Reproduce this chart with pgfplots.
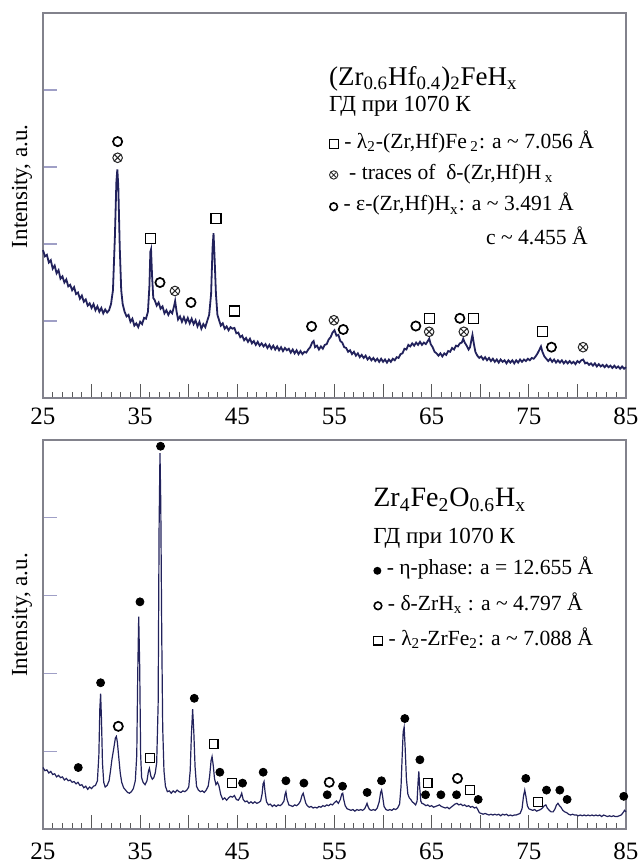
\documentclass[border=0pt]{standalone}
\usepackage{fontspec}
\setmainfont{Liberation Serif}
\usepackage{pgfplots}
\usepackage{pgfplotstable}
\pgfplotsset{compat=1.18}

\definecolor{trace}{RGB}{34,34,92}
\definecolor{frame}{RGB}{130,130,140}

% phase symbols used in the keys, built once as boxes
\newsavebox\boxsq
\newsavebox\boxot
\newsavebox\boxci
\newsavebox\boxdot
\newcommand{\symsq}{\usebox\boxsq}
\newcommand{\symot}{\usebox\boxot}
\newcommand{\symci}{\usebox\boxci}
\newcommand{\symdot}{\usebox\boxdot}
\newcommand{\Ang}{Å}
\newcommand{\keyfont}{\fontsize{10.8}{12}\selectfont}
\tikzset{keytext/.style={inner sep=0pt, anchor=base west}}

\pgfplotstableread{
x y
25.0 1.92
25.2 1.84
25.4 1.86
25.6 1.76
25.8 1.79
26.0 1.68
26.2 1.72
26.4 1.62
26.6 1.66
26.8 1.55
27.0 1.58
27.2 1.50
27.4 1.54
27.6 1.45
27.8 1.47
28.0 1.40
28.2 1.44
28.4 1.35
28.6 1.37
28.8 1.29
29.0 1.33
29.2 1.25
29.4 1.28
29.6 1.20
29.8 1.23
30.0 1.17
30.2 1.22
30.4 1.14
30.6 1.19
30.8 1.12
31.0 1.17
31.2 1.10
31.4 1.15
31.6 1.11
31.8 1.14
32.0 1.22
32.2 1.40
32.4 2.10
32.55 2.80
32.65 2.97
32.75 2.75
32.9 1.95
33.05 1.40
33.2 1.22
33.4 1.12
33.6 1.06
33.8 1.08
34.0 0.99
34.2 1.03
34.4 0.94
34.6 0.97
34.8 0.92
35.0 0.99
35.2 0.96
35.4 1.04
35.6 1.03
35.8 1.12
35.95 1.45
36.05 1.90
36.12 1.93
36.22 1.60
36.35 1.30
36.5 1.27
36.7 1.20
36.9 1.24
37.1 1.16
37.3 1.19
37.5 1.10
37.7 1.14
37.9 1.08
38.1 1.13
38.3 1.10
38.5 1.20
38.6 1.26
38.75 1.12
38.9 1.02
39.1 1.06
39.3 0.99
39.5 1.05
39.7 0.98
39.9 1.04
40.1 0.97
40.3 1.03
40.5 0.96
40.7 1.01
40.9 0.93
41.1 0.99
41.3 0.90
41.5 0.96
41.7 0.92
41.9 1.00
42.1 1.08
42.3 1.35
42.45 1.95
42.55 2.14
42.65 1.85
42.8 1.35
42.95 1.08
43.1 1.02
43.3 0.94
43.5 0.97
43.7 0.90
43.9 0.93
44.1 0.88
44.3 0.92
44.5 0.90
44.7 0.91
44.9 0.84
45.1 0.85
45.3 0.79
45.5 0.81
45.7 0.75
45.9 0.78
46.1 0.73
46.3 0.77
46.5 0.71
46.7 0.74
46.9 0.69
47.1 0.73
47.3 0.68
47.5 0.71
47.7 0.67
47.9 0.70
48.1 0.65
48.3 0.69
48.5 0.64
48.7 0.68
48.9 0.63
49.1 0.67
49.3 0.62
49.5 0.66
49.7 0.61
49.9 0.65
50.1 0.62
50.3 0.64
50.5 0.59
50.7 0.63
50.9 0.58
51.1 0.62
51.3 0.57
51.5 0.61
51.7 0.57
51.9 0.60
52.1 0.59
52.3 0.63
52.5 0.66
52.7 0.72
52.85 0.74
53.0 0.66
53.2 0.68
53.4 0.63
53.6 0.67
53.8 0.64
54.0 0.69
54.2 0.70
54.4 0.76
54.6 0.79
54.8 0.85
55.0 0.88
55.2 0.81
55.4 0.82
55.6 0.74
55.8 0.72
56.0 0.66
56.2 0.65
56.4 0.60
56.6 0.62
56.8 0.57
57.0 0.60
57.2 0.55
57.4 0.58
57.6 0.53
57.8 0.56
58.0 0.52
58.2 0.55
58.4 0.50
58.6 0.53
58.8 0.49
59.0 0.52
59.2 0.48
59.4 0.51
59.6 0.47
59.8 0.51
60.0 0.47
60.2 0.50
60.4 0.46
60.6 0.50
60.8 0.47
61.0 0.51
61.2 0.49
61.4 0.53
61.6 0.52
61.8 0.57
62.0 0.58
62.2 0.64
62.4 0.63
62.6 0.69
62.8 0.67
63.0 0.71
63.2 0.68
63.4 0.72
63.6 0.69
63.8 0.73
64.0 0.69
64.2 0.72
64.4 0.70
64.6 0.74
64.75 0.77
64.9 0.70
65.1 0.66
65.3 0.60
65.5 0.58
65.7 0.55
65.9 0.58
66.1 0.54
66.3 0.58
66.5 0.56
66.7 0.61
66.9 0.60
67.1 0.65
67.3 0.63
67.5 0.68
67.7 0.67
67.9 0.71
68.1 0.72
68.25 0.77
68.4 0.72
68.6 0.68
68.8 0.63
68.95 0.66
69.1 0.76
69.2 0.82
69.35 0.70
69.5 0.60
69.7 0.55
69.9 0.52
70.1 0.54
70.3 0.50
70.5 0.53
70.7 0.49
70.9 0.52
71.1 0.48
71.3 0.51
71.5 0.47
71.7 0.50
71.9 0.46
72.1 0.50
72.3 0.47
72.5 0.49
72.7 0.45
72.9 0.49
73.1 0.46
73.3 0.49
73.5 0.45
73.7 0.49
73.9 0.46
74.1 0.50
74.3 0.47
74.5 0.50
74.7 0.48
74.9 0.51
75.1 0.49
75.3 0.52
75.5 0.51
75.7 0.54
75.9 0.58
76.1 0.63
76.25 0.67
76.4 0.60
76.6 0.54
76.8 0.51
77.0 0.48
77.2 0.51
77.4 0.47
77.6 0.50
77.8 0.46
78.0 0.49
78.2 0.46
78.4 0.49
78.6 0.45
78.8 0.48
79.0 0.45
79.2 0.48
79.4 0.45
79.6 0.47
79.8 0.44
80.0 0.48
80.2 0.46
80.4 0.49
80.6 0.50
80.8 0.45
81.0 0.46
81.2 0.43
81.4 0.45
81.6 0.42
81.8 0.45
82.0 0.41
82.2 0.44
82.4 0.41
82.6 0.43
82.8 0.40
83.0 0.43
83.2 0.40
83.4 0.42
83.6 0.39
83.8 0.42
84.0 0.39
84.2 0.41
84.4 0.38
84.6 0.41
84.8 0.38
85.0 0.40
}\toptrace

\pgfplotstableread{
x y
25.0 0.79
25.2 0.75
25.4 0.76
25.6 0.72
25.8 0.74
26.0 0.70
26.2 0.71
26.4 0.67
26.6 0.69
26.8 0.66
27.0 0.67
27.2 0.63
27.4 0.65
27.6 0.62
27.8 0.63
28.0 0.60
28.2 0.61
28.4 0.58
28.6 0.60
28.8 0.56
29.0 0.57
29.2 0.53
29.4 0.55
29.6 0.51
29.8 0.54
30.0 0.52
30.2 0.55
30.4 0.56
30.6 0.62
30.75 0.95
30.85 1.55
30.93 1.74
31.02 1.40
31.12 0.85
31.25 0.60
31.4 0.54
31.6 0.56
31.8 0.62
31.95 0.75
32.1 0.90
32.3 1.05
32.45 1.17
32.55 1.19
32.65 1.12
32.8 0.92
32.95 0.72
33.1 0.60
33.3 0.53
33.5 0.50
33.7 0.47
33.9 0.46
34.1 0.48
34.3 0.52
34.5 0.62
34.65 0.95
34.75 2.00
34.85 2.73
34.95 2.10
35.05 0.95
35.15 0.66
35.3 0.60
35.5 0.57
35.7 0.62
35.85 0.74
35.95 0.78
36.1 0.68
36.25 0.64
36.4 0.66
36.55 0.72
36.7 0.85
36.85 1.60
36.95 3.90
37.04 4.83
37.12 4.20
37.22 2.50
37.32 1.30
37.45 0.75
37.6 0.55
37.8 0.48
38.0 0.49
38.2 0.46
38.4 0.49
38.6 0.47
38.8 0.50
39.0 0.48
39.2 0.47
39.4 0.49
39.6 0.48
39.8 0.50
40.0 0.54
40.15 0.75
40.27 1.20
40.4 1.54
40.52 1.25
40.65 0.80
40.8 0.55
41.0 0.50
41.2 0.48
41.4 0.49
41.6 0.47
41.8 0.50
42.0 0.55
42.15 0.68
42.3 0.88
42.4 0.93
42.52 0.82
42.65 0.65
42.8 0.57
42.95 0.60
43.1 0.56
43.3 0.44
43.5 0.38
43.7 0.40
43.9 0.37
44.1 0.40
44.3 0.42
44.5 0.41
44.7 0.43
44.9 0.38
45.1 0.37
45.3 0.41
45.45 0.46
45.6 0.38
45.8 0.35
46.0 0.36
46.2 0.33
46.4 0.35
46.6 0.33
46.8 0.35
47.0 0.33
47.2 0.34
47.4 0.36
47.55 0.45
47.65 0.58
47.75 0.61
47.85 0.48
48.0 0.35
48.2 0.31
48.4 0.32
48.6 0.29
48.8 0.31
49.0 0.29
49.2 0.31
49.4 0.30
49.6 0.32
49.8 0.36
49.92 0.45
50.0 0.48
50.12 0.38
50.3 0.31
50.5 0.30
50.7 0.29
50.9 0.31
51.1 0.30
51.3 0.32
51.5 0.36
51.65 0.43
51.78 0.46
51.9 0.40
52.05 0.33
52.2 0.30
52.4 0.28
52.6 0.29
52.8 0.27
53.0 0.28
53.2 0.27
53.4 0.29
53.6 0.28
53.8 0.30
54.0 0.29
54.2 0.31
54.4 0.30
54.6 0.32
54.8 0.31
55.0 0.34
55.2 0.36
55.4 0.33
55.6 0.38
55.75 0.45
55.85 0.46
55.95 0.38
56.1 0.30
56.3 0.26
56.5 0.25
56.7 0.24
56.9 0.25
57.1 0.23
57.3 0.25
57.5 0.24
57.7 0.25
57.9 0.24
58.1 0.26
58.25 0.30
58.35 0.33
58.45 0.29
58.6 0.25
58.8 0.24
59.0 0.25
59.2 0.24
59.4 0.27
59.6 0.35
59.75 0.47
59.85 0.50
59.95 0.42
60.1 0.29
60.3 0.25
60.5 0.24
60.7 0.25
60.9 0.24
61.1 0.26
61.3 0.25
61.5 0.27
61.7 0.32
61.85 0.55
61.97 0.95
62.07 1.25
62.17 1.31
62.27 1.05
62.4 0.65
62.55 0.45
62.7 0.40
62.85 0.38
63.0 0.35
63.2 0.33
63.35 0.31
63.5 0.36
63.6 0.60
63.68 0.74
63.76 0.55
63.88 0.36
64.0 0.33
64.2 0.32
64.4 0.30
64.6 0.31
64.8 0.29
65.0 0.30
65.2 0.28
65.4 0.29
65.6 0.30
65.8 0.31
66.0 0.29
66.2 0.28
66.4 0.27
66.6 0.28
66.8 0.26
67.0 0.28
67.2 0.30
67.4 0.32
67.6 0.33
67.8 0.31
68.0 0.32
68.2 0.30
68.4 0.31
68.6 0.29
68.8 0.30
69.0 0.28
69.2 0.29
69.4 0.27
69.6 0.28
69.75 0.25
69.9 0.21
70.1 0.20
70.3 0.19
70.5 0.20
70.7 0.19
70.9 0.18
71.1 0.19
71.3 0.18
71.5 0.19
71.7 0.18
71.9 0.19
72.1 0.17
72.3 0.19
72.5 0.18
72.7 0.19
72.9 0.17
73.1 0.18
73.3 0.17
73.5 0.18
73.7 0.18
73.9 0.19
74.1 0.20
74.3 0.26
74.45 0.42
74.58 0.50
74.7 0.42
74.85 0.30
75.0 0.26
75.2 0.25
75.4 0.24
75.6 0.25
75.8 0.23
76.0 0.24
76.2 0.25
76.4 0.27
76.6 0.30
76.75 0.31
76.9 0.27
77.1 0.24
77.3 0.22
77.5 0.22
77.7 0.26
77.85 0.31
78.0 0.33
78.15 0.30
78.3 0.28
78.5 0.24
78.7 0.22
78.9 0.21
79.1 0.19
79.3 0.18
79.5 0.19
79.7 0.18
79.9 0.18
80.1 0.17
80.3 0.18
80.5 0.17
80.7 0.18
80.9 0.17
81.1 0.18
81.3 0.17
81.5 0.18
81.7 0.17
81.9 0.18
82.1 0.17
82.3 0.18
82.5 0.16
82.7 0.18
82.9 0.17
83.1 0.16
83.3 0.17
83.5 0.16
83.7 0.17
83.9 0.16
84.1 0.16
84.3 0.17
84.5 0.18
84.7 0.21
84.85 0.24
85.0 0.22
}\bottomtrace

\pgfplotsset{
  xrd/.style={
    width=291.5pt, scale only axis,
    xmin=25, xmax=85, ymin=0, ymax=5,
    xtick={25,30,...,85},
    xticklabels={25,,35,,45,,55,,65,,75,,85},
    minor x tick num=4,
    ytick={1,2,3,4}, yticklabels={},
    tick align=inside, tick pos=left,
    major tick length=7pt, minor tick length=3pt,
    axis line style={frame, line width=0.6pt},
    tick style={gray!70!black, line width=0.5pt},
    ytick style={blue!25!gray!60, line width=0.6pt},
    ticklabel style={font=\fontsize{12.5}{14}\selectfont},
    /pgf/number format/assume math mode=true,
    ylabel={Intensity, a.u.},
    ylabel style={at={(axis description cs:-0.036,0.55)}, anchor=center,
      font=\fontsize{11.5}{13}\selectfont},
    clip=false,
  },
  sqmark/.style={only marks, mark=square, mark size=2.5pt,
    mark options={line width=0.6pt, black}},
  cimark/.style={only marks, mark=o, mark size=2.3pt,
    mark options={line width=0.85pt, black}},
  otmark/.style={only marks, mark=otimes, mark size=2.4pt,
    mark options={line width=0.5pt, gray!30!black}},
  dotmark/.style={only marks, mark=*, mark size=2pt,
    mark options={black}},
}

\begin{document}
\sbox\boxsq{\tikz[baseline=0pt]\draw[line width=0.55pt] (0,0) rectangle (4.4pt,4.4pt);}%
\sbox\boxot{\tikz[baseline=0pt]{\draw[line width=0.45pt,gray!30!black] (0,2.2pt) circle (2.1pt);
  \draw[line width=0.4pt,gray!30!black] (-1.3pt,0.9pt)--(1.3pt,3.5pt) (-1.3pt,3.5pt)--(1.3pt,0.9pt);}}%
\sbox\boxci{\tikz[baseline=0pt]\draw[line width=0.8pt] (0,2.1pt) circle (1.9pt);}%
\sbox\boxdot{\tikz[baseline=0pt]\fill (0,2.1pt) circle (2pt);}%
\begin{tikzpicture}
\useasboundingbox (0,0) rectangle (319pt,-432pt);

% (Zr0.6Hf0.4)2FeHx
\begin{axis}[xrd, height=192.5pt, at={(21.5pt,-199pt)}, anchor=south west,
  xticklabel style={yshift=-1.5pt}]
  \addplot[trace, line width=0.9pt] table {\toptrace};
  \addplot[sqmark] coordinates {(36.04,2.07) (42.8,2.33) (44.68,1.13)
    (64.81,1.035) (69.34,1.035) (76.37,0.86)};
  \addplot[cimark] coordinates {(32.68,3.33) (37.04,1.50) (40.23,1.24)
    (52.64,0.93) (55.9,0.89) (63.37,0.935) (67.9,1.035) (77.33,0.66)};
  \addplot[otmark] coordinates {(32.68,3.12) (38.58,1.39) (54.94,1.01)
    (64.74,0.86) (68.31,0.86) (80.58,0.66)};
  \node[keytext, font=\fontsize{13.5}{15}\selectfont]
    at (axis description cs:0.49,0.812)
    {(Zr\textsubscript{0.6}Hf\textsubscript{0.4})\textsubscript{2}FeH\textsubscript{x}};
  \node[keytext, font=\fontsize{11.5}{13}\selectfont]
    at (axis description cs:0.49,0.745) {ГД при 1070 К};
  \node[keytext, font=\keyfont]
    at (axis description cs:0.49,0.649)
    {\symsq{} - λ\textsubscript{2}-(Zr,Hf)Fe\,\textsubscript{2}: a \textasciitilde{} 7.056 \Ang};
  \node[keytext, font=\keyfont]
    at (axis description cs:0.49,0.568)
    {\symot{}\ \ - traces of\ \ δ-(Zr,Hf)H\,\textsubscript{x}};
  \node[keytext, font=\keyfont]
    at (axis description cs:0.49,0.486)
    {\symci{} - ε-(Zr,Hf)H\textsubscript{x}: a \textasciitilde{} 3.491 \Ang};
  \node[inner sep=0pt, anchor=base east, font=\keyfont]
    at (axis description cs:0.935,0.400)
    {c \textasciitilde{} 4.455 \Ang};
\end{axis}

% Zr4Fe2O0.6Hx
\begin{axis}[xrd, height=194.5pt, at={(21.5pt,-414.5pt)}, anchor=south west,
  xticklabel style={yshift=-3.5pt}]
  \addplot[trace, line width=0.6pt] table {\bottomtrace};
  \addplot[dotmark] coordinates {(28.63,0.79) (30.93,1.88) (34.98,2.92)
    (37.1,4.92) (40.57,1.68) (43.2,0.73) (45.54,0.59) (47.66,0.73)
    (50.0,0.62) (51.85,0.59) (54.25,0.44) (55.83,0.55) (58.36,0.47)
    (59.84,0.62) (62.24,1.42) (63.79,0.89) (64.37,0.44) (65.95,0.44)
    (67.56,0.44) (69.79,0.38) (74.69,0.65) (76.82,0.50) (78.19,0.50)
    (78.94,0.38) (84.77,0.42)};
  \addplot[cimark] coordinates {(32.75,1.32) (54.46,0.60) (67.66,0.65)};
  \addplot[sqmark, mark size=2.2pt] coordinates {(36.04,0.91) (42.56,1.09)
    (44.47,0.59) (64.58,0.59) (68.93,0.50) (75.96,0.35)};
  \node[keytext, font=\fontsize{14}{15}\selectfont]
    at (axis description cs:0.566,0.828)
    {Zr\textsubscript{4}Fe\textsubscript{2}O\textsubscript{0.6}H\textsubscript{x}};
  \node[keytext, font=\fontsize{11.5}{13}\selectfont]
    at (axis description cs:0.566,0.735) {ГД при 1070 К};
  \node[keytext, font=\keyfont]
    at (axis description cs:0.566,0.653)
    {\symdot{} - η-phase: a = 12.655 \Ang};
  \node[keytext, font=\keyfont]
    at (axis description cs:0.566,0.563)
    {\symci{} - δ-ZrH\textsubscript{x} : a \textasciitilde{} 4.797 \Ang};
  \node[keytext, font=\keyfont]
    at (axis description cs:0.566,0.473)
    {\symsq{} - λ\textsubscript{2}-ZrFe\textsubscript{2}: a \textasciitilde{} 7.088 \Ang};
\end{axis}
\end{tikzpicture}
\end{document}
